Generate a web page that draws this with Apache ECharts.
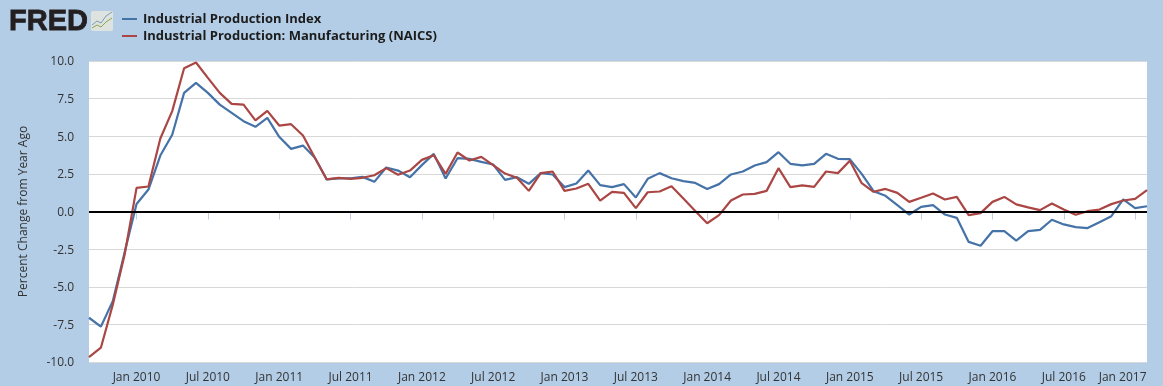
<!DOCTYPE html>
<html><head><meta charset="utf-8">
<script src="https://cdn.jsdelivr.net/npm/echarts@6/dist/echarts.min.js"></script>
<style>html,body{margin:0;padding:0;background:#b3cde6}#c{width:1163px;height:386px}</style>
</head><body><div id="c"></div>
<script>
const months = ['Sep 2009','Oct 2009','Nov 2009','Dec 2009',
'Jan 2010','Feb 2010','Mar 2010','Apr 2010','May 2010','Jun 2010','Jul 2010','Aug 2010','Sep 2010','Oct 2010','Nov 2010','Dec 2010',
'Jan 2011','Feb 2011','Mar 2011','Apr 2011','May 2011','Jun 2011','Jul 2011','Aug 2011','Sep 2011','Oct 2011','Nov 2011','Dec 2011',
'Jan 2012','Feb 2012','Mar 2012','Apr 2012','May 2012','Jun 2012','Jul 2012','Aug 2012','Sep 2012','Oct 2012','Nov 2012','Dec 2012',
'Jan 2013','Feb 2013','Mar 2013','Apr 2013','May 2013','Jun 2013','Jul 2013','Aug 2013','Sep 2013','Oct 2013','Nov 2013','Dec 2013',
'Jan 2014','Feb 2014','Mar 2014','Apr 2014','May 2014','Jun 2014','Jul 2014','Aug 2014','Sep 2014','Oct 2014','Nov 2014','Dec 2014',
'Jan 2015','Feb 2015','Mar 2015','Apr 2015','May 2015','Jun 2015','Jul 2015','Aug 2015','Sep 2015','Oct 2015','Nov 2015','Dec 2015',
'Jan 2016','Feb 2016','Mar 2016','Apr 2016','May 2016','Jun 2016','Jul 2016','Aug 2016','Sep 2016','Oct 2016','Nov 2016','Dec 2016',
'Jan 2017','Feb 2017'];
const industrial = [-7.06,-7.65,-5.96,-2.7,0.5,1.46,3.72,5.1,7.88,8.55,7.88,7.1,6.55,6.0,5.63,6.22,4.96,4.16,4.38,3.57,2.13,2.2,2.21,2.3,
1.97,2.92,2.72,2.28,3.08,3.83,2.19,3.54,3.5,3.3,3.12,2.1,2.28,1.84,2.55,2.46,1.62,1.86,2.72,1.75,1.62,1.82,0.93,
2.17,2.55,2.21,2.02,1.9,1.5,1.82,2.46,2.66,3.06,3.28,3.94,3.17,3.06,3.17,3.83,3.5,3.48,2.5,1.35,1.04,0.42,-0.2,
0.31,0.42,-0.2,-0.42,-2.02,-2.28,-1.31,-1.31,-1.93,-1.31,-1.22,-0.55,-0.86,-1.04,-1.1,-0.71,-0.31,0.8,0.22,0.35];
const manufacturing = [-9.68,-9.05,-6.2,-2.85,1.57,1.66,4.85,6.67,9.52,9.9,8.88,7.88,7.15,7.1,6.05,6.69,5.71,5.8,5.05,3.57,2.13,2.24,2.17,2.24,
2.41,2.88,2.44,2.72,3.43,3.74,2.5,3.92,3.39,3.63,3.08,2.52,2.24,1.37,2.55,2.66,1.37,1.53,1.84,0.73,1.31,1.24,0.22,
1.28,1.33,1.68,0.86,0.04,-0.78,-0.24,0.73,1.13,1.17,1.37,2.88,1.62,1.73,1.64,2.66,2.55,3.37,1.88,1.31,1.5,1.24,0.64,
0.91,1.2,0.8,0.97,-0.24,-0.11,0.64,0.97,0.47,0.27,0.09,0.53,0.13,-0.22,0.02,0.13,0.49,0.73,0.84,1.42];
const seriesNames = ['Industrial Production Index','Industrial Production: Manufacturing (NAICS)'];
const seriesColors = ['#4572a7','#aa4643'];
const yTitle = 'Percent Change from Year Ago';
const font = '"Open Sans"';
const isLabelled = i => /^(Jan|Jul)/.test(months[i]);
const chart = echarts.init(document.getElementById('c'), null, {renderer:'canvas'});
chart.setOption({
  animation:false,
  backgroundColor:'#b3cde6',
  textStyle:{fontFamily:font},
  grid:{left:89,right:16,top:61,bottom:24,show:true,backgroundColor:'#fff',borderWidth:0},
  legend:{
    orient:'vertical',left:117,top:7,itemGap:3,itemWidth:15,itemHeight:2,icon:'rect',
    data:seriesNames,
    textStyle:{fontFamily:font,fontWeight:700,fontSize:13,color:'#1c1c1c',lineHeight:14,height:14,padding:[0,0,0,1]},
    selectedMode:false
  },
  xAxis:{
    type:'category',data:months,boundaryGap:false,
    axisLine:{show:false},
    axisTick:{show:true,length:8,interval:(i)=>isLabelled(i),lineStyle:{color:'#c0d0e0'}},
    splitLine:{show:false},
    axisLabel:{
      interval:(i)=>isLabelled(i),color:'#333',fontSize:12,fontFamily:font,margin:10,hideOverlap:false,
      formatter:(v)=>v==='Jan 2017'?'{s|'+v+'}':v,
      rich:{s:{color:'#333',fontSize:12,fontFamily:font,padding:[0,25,0,0]}}
    }
  },
  yAxis:{
    type:'value',min:-10,max:10,interval:2.5,
    name:yTitle,nameLocation:'middle',nameGap:59,nameRotate:90,
    nameTextStyle:{color:'#333',fontSize:12,fontFamily:font},
    axisLine:{show:false},axisTick:{show:false},
    splitLine:{lineStyle:{color:'#d8d8d8',width:1}},
    axisLabel:{color:'#333',fontSize:12,fontFamily:font,margin:15,
      formatter:(v)=>'{t|'+v.toFixed(1)+'}',
      rich:{t:{color:'#333',fontSize:12,fontFamily:font,padding:[2,0,0,0]}}}
  },
  series:[
    {name:seriesNames[0],type:'line',data:industrial,showSymbol:false,symbol:'none',smooth:false,
     lineStyle:{color:seriesColors[0],width:2.2},itemStyle:{color:seriesColors[0]},
     markLine:{silent:true,symbol:'none',label:{show:false},
       lineStyle:{color:'#000',width:2,type:'solid'},data:[{yAxis:0}]}},
    {name:seriesNames[1],type:'line',data:manufacturing,showSymbol:false,symbol:'none',smooth:false,
     lineStyle:{color:seriesColors[1],width:2.2},itemStyle:{color:seriesColors[1]}}
  ],
  graphic:[
    {type:'text',x:9,y:7.5,scaleX:1.0,style:{text:'FRED',fill:'#231f20',fontFamily:'"Liberation Sans"',fontWeight:900,fontSize:29,stroke:'#231f20',lineWidth:0.8}},
    {type:'rect',x:91,y:11,shape:{width:22,height:20,r:2},style:{fill:'#dfe3e0'}},
    {type:'polyline',shape:{points:[[92,25],[97,21],[101,23],[106,16],[112,12]]},style:{stroke:'#7a9bb5',lineWidth:1,fill:null}},
    {type:'polyline',shape:{points:[[92,28],[97,25],[101,27],[106,22],[112,18]]},style:{stroke:'#8aa84a',lineWidth:1,fill:null}}
  ]
});
</script></body></html>
